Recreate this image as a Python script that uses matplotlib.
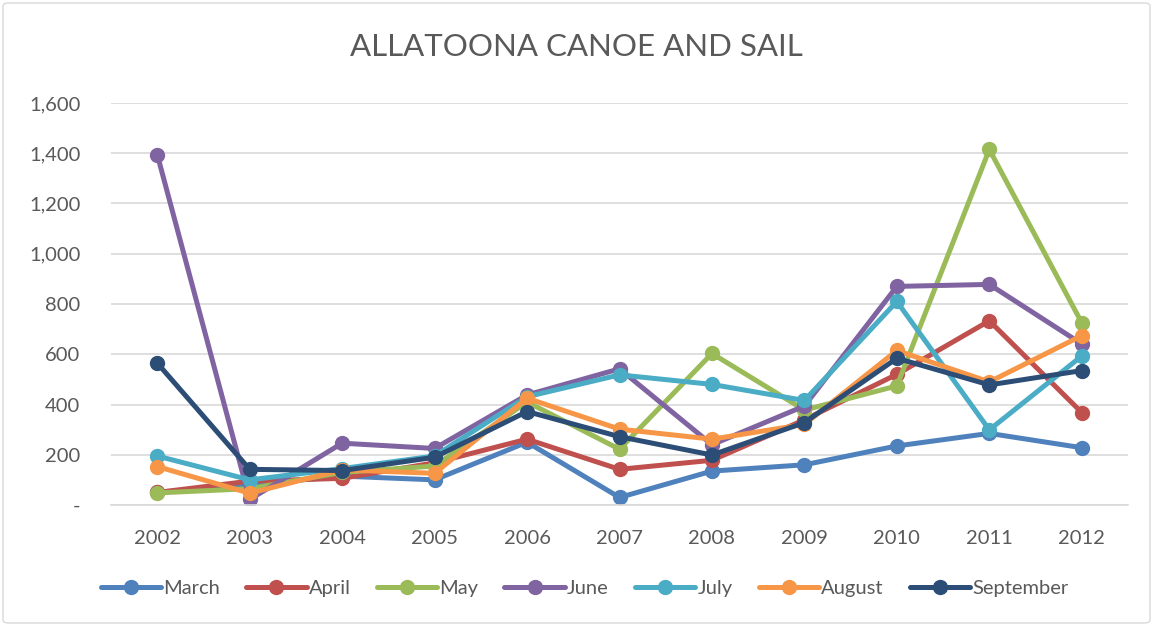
import matplotlib.pyplot as plt
from matplotlib.patches import FancyBboxPatch
from matplotlib.ticker import FuncFormatter

plt.rcParams['font.family'] = ['Lato', 'DejaVu Sans']

years = ["2002", "2003", "2004", "2005", "2006", "2007", "2008", "2009", "2010", "2011", "2012"]

march = [50, 80, 115, 100, 250, 30, 135, 160, 235, 285, 228]
april = [50, 95, 106, 168, 262, 142, 178, 339, 520, 733, 368]
may = [48, 65, 130, 155, 410, 222, 603, 378, 474, 1415, 725]
june = [1395, 22, 246, 225, 438, 542, 240, 394, 870, 878, 641]
july = [195, 100, 145, 195, 431, 518, 480, 416, 810, 299, 593]
august = [153, 47, 140, 126, 425, 302, 262, 321, 615, 490, 674]
september = [565, 142, 137, 190, 372, 272, 199, 328, 584, 478, 535]

series = [
    ("March", march, "#4F81BD"),
    ("April", april, "#C0504D"),
    ("May", may, "#9BBB59"),
    ("June", june, "#8064A2"),
    ("July", july, "#4BACC6"),
    ("August", august, "#F79646"),
    ("September", september, "#2C4D75"),
]

fig = plt.figure(figsize=(11.53, 6.26), dpi=100)
ax = fig.add_axes([111 / 1153, 1 - 505 / 626, (1128 - 111) / 1153, (505 - 103) / 626])

x = list(range(len(years)))
for name, vals, color in series:
    ax.plot(x, vals, color=color, linewidth=3.6, marker="o", markersize=10,
            label=name, solid_capstyle="round")

ax.set_xlim(-0.5, len(years) - 0.5)
ax.set_ylim(0, 1600)
ax.set_yticks(range(0, 1601, 200))
ax.yaxis.set_major_formatter(FuncFormatter(lambda v, p: "-" if v == 0 else f"{int(v):,}"))
ax.set_xticks(x)
ax.set_xticklabels(years)
ax.grid(axis="y", color="#D9D9D9", linewidth=1.2)
ax.set_axisbelow(True)
for s in ["top", "right", "left"]:
    ax.spines[s].set_visible(False)
ax.spines["bottom"].set_color("#D9D9D9")
ax.spines["bottom"].set_linewidth(1.2)
ax.tick_params(length=0, labelsize=14.5, colors="#595959", pad=18)
ax.tick_params(axis="y", pad=22)

fig.text(0.5, 1 - 47 / 626, "ALLATOONA CANOE AND SAIL", ha="center", va="center",
         fontsize=22.5, color="#595959")

fig.legend(loc="center", bbox_to_anchor=(0.507, 1 - 588 / 626), ncol=7, frameon=False,
           fontsize=14.5, labelcolor="#595959", handlelength=3.0, handletextpad=0.1,
           columnspacing=1.3)

border = FancyBboxPatch((3 / 1153, 3 / 626), 1 - 6 / 1153, 1 - 6 / 626,
                        boxstyle="round,pad=0,rounding_size=0.005", transform=fig.transFigure,
                        fill=False, edgecolor="#D9D9D9", linewidth=1)
fig.patches.append(border)

fig.savefig("out.png", dpi=100)
